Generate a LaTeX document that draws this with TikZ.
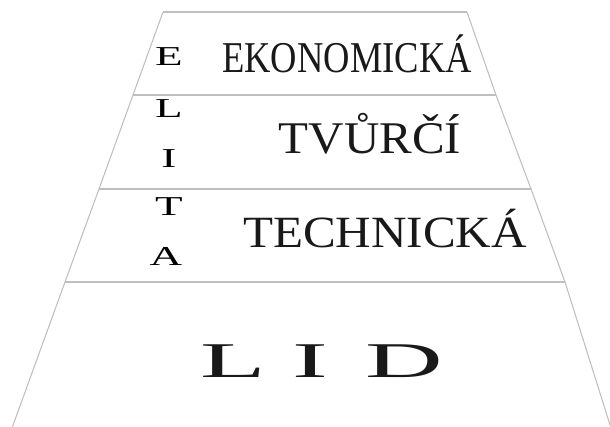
\documentclass[tikz,border=0pt]{standalone}
\usepackage{fontspec}
\setmainfont{Liberation Serif}
\begin{document}
\begin{tikzpicture}[x=0.75pt,y=-0.75pt,
  edge/.style={draw=black!25,line width=0.8pt},
  big/.style={inner sep=0pt,anchor=base,text=black!90},
  elita/.style={inner sep=0pt,anchor=base,xscale=1.65,font=\fontsize{20.5}{20.5}\selectfont}]
\useasboundingbox (0,0) rectangle (610,426);
% side points
\coordinate (l0) at (163,12);  \coordinate (r0) at (467,12);
\coordinate (l1) at (133,95);  \coordinate (r1) at (496,95);
\coordinate (l2) at (99,189);  \coordinate (r2) at (531,189);
\coordinate (l3) at (65,282);  \coordinate (r3) at (565,282);
\coordinate (l4) at (12,428);  \coordinate (r4) at (611,428);
\draw[edge] (l0) -- (l1) -- (l2) -- (l3) -- (l4);
\draw[edge] (r0) -- (r1) -- (r2) -- (r3) -- (r4);
\draw[edge] (l0) -- (r0);
\draw[edge] (l1) -- (r1);
\draw[edge] (l2) -- (r2);
\draw[edge] (l3) -- (r3);
% band texts
\node[big,xscale=0.83,font=\fontsize{33}{33}\selectfont] (eko) at (347,72) {EKONOMICKÁ};
\node[big,xscale=1.08,font=\fontsize{34}{34}\selectfont] (tvu) at (370,153) {TVŮRČÍ};
\node[big,xscale=1.1,font=\fontsize{33.5}{33.5}\selectfont] (tec) at (385,247) {TECHNICKÁ};
\node[big,xscale=2.15,font=\fontsize{37.5}{37.5}\selectfont] (lid) at (322,377) {L\hspace{9pt}I\hspace{13pt}D};
% ELITA vertical
\node[elita] (e1) at (169,65) {E};
\node[elita] (e2) at (169,117) {L};
\node[elita] (e3) at (169,167) {I};
\node[elita] (e4) at (169,215) {T};
\node[elita] (e5) at (166,265) {A};
\end{tikzpicture}
\end{document}
